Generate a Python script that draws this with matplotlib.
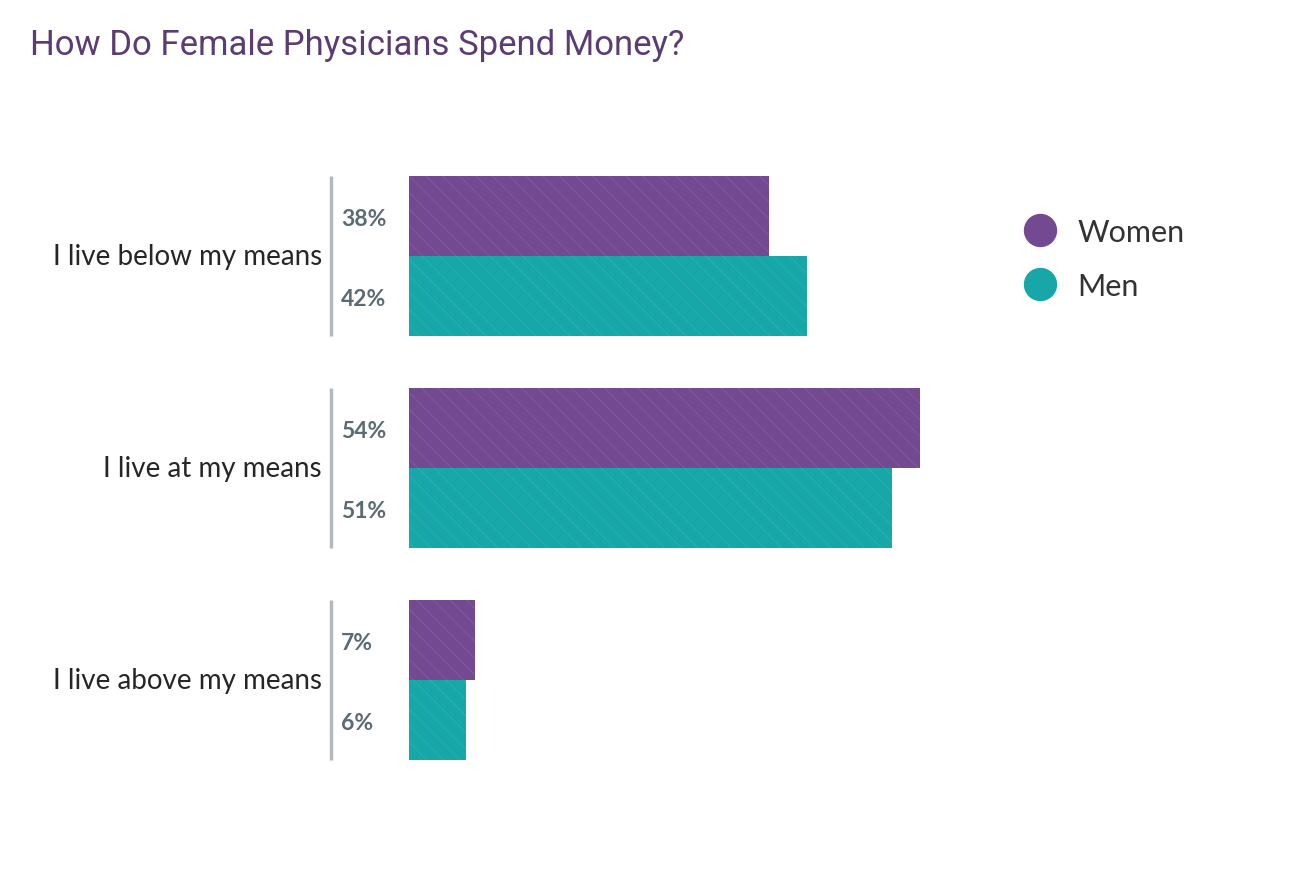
import matplotlib.pyplot as plt
from matplotlib.lines import Line2D

categories = ["I live below my means", "I live at my means", "I live above my means"]
women = [38, 54, 7]
men = [42, 51, 6]
series_names = ["Women", "Men"]

PURPLE = "#734a91"
TEAL = "#17a7a8"
plt.rcParams['hatch.linewidth'] = 0.8

W, H = 1290, 878
fig = plt.figure(figsize=(W / 100, H / 100), dpi=100)

# axes placed so that 0% sits at x=409px, 1% ~ 9.47px
left_px, right_px = 409, 409 + 9.47 * 60
top_px, bot_px = 152, 787
ax = fig.add_axes([left_px / W, (H - bot_px) / H,
                   (right_px - left_px) / W, (bot_px - top_px) / H])
ax.set_xlim(0, 60)
ax.set_ylim(2 + 106 / 212, -105 / 212)
ax.axis("off")

bh = 80 / 212
for i, (w, m) in enumerate(zip(women, men)):
    ax.barh(i - bh / 2, w, height=bh, color=PURPLE, edgecolor=(1, 1, 1, 0.08),
            linewidth=0, hatch="\\\\")
    ax.barh(i + bh / 2, m, height=bh, color=TEAL, edgecolor=(1, 1, 1, 0.08),
            linewidth=0, hatch="\\\\")
    # gray separator line and labels, positioned by pixel offsets
    xline = (331 - left_px) / 9.47
    ax.plot([xline, xline], [i - bh, i + bh], color="#b3b9bd", lw=2.5,
            clip_on=False, solid_capstyle="butt")
    xlab = (341 - left_px) / 9.47
    for v, yy in ((w, i - bh / 2), (m, i + bh / 2)):
        ax.text(xlab, yy + 0.01, f"{v}%", ha="left", va="center", fontsize=16.5,
                color="#5b6b73", fontweight="bold", family="Lato",
                clip_on=False)
    xcat = (322 - left_px) / 9.47
    ax.text(xcat, i, categories[i], ha="right", va="center", fontsize=20,
            color="#262626", family="Lato", clip_on=False)

fig.text(30 / W, 1 - 46 / H, "How Do Female Physicians Spend Money?",
         fontsize=25, color="#5b3d72", family="Roboto", va="center", ha="left")

handles = [Line2D([], [], marker="o", linestyle="none", markersize=23,
                  markerfacecolor=c, markeredgecolor=c) for c in (PURPLE, TEAL)]
fig.legend(handles, series_names, loc="upper left",
           bbox_to_anchor=(1022 / W, 1 - 219 / H), frameon=False,
           prop={"family": "Lato", "size": 22}, labelcolor="#333333",
           handlelength=1.2, handletextpad=0.62, labelspacing=0.85,
           borderaxespad=0, borderpad=0)

fig.savefig("out.png", dpi=100, facecolor="white")
